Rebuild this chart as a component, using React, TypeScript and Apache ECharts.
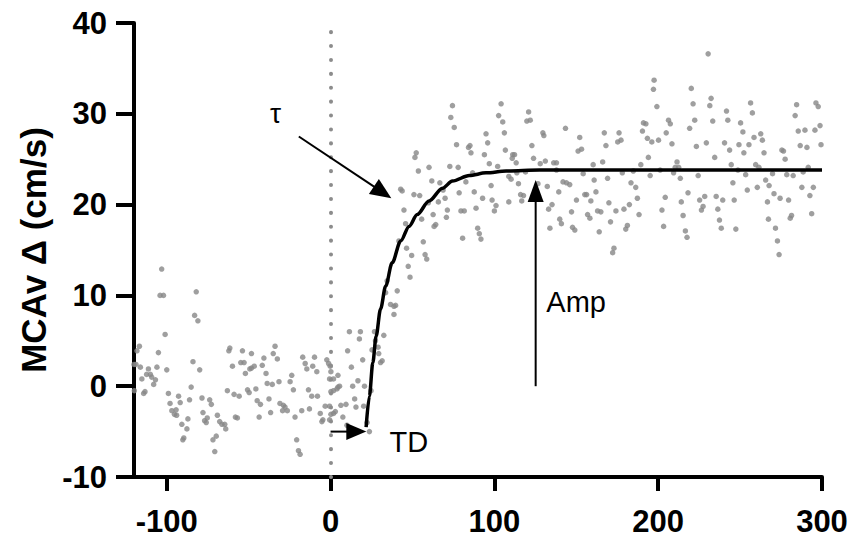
import React, { useEffect, useRef } from "react";
import * as echarts from "echarts";

// ---------- data ----------
const xTickValues = [-100, 0, 100, 200, 300];
const xRange = [-120, 300];
const yRange = [-10, 40];

const baselinePoints: [number, number][] = [
  [-103.1, 12.9], [-104.1, 10.0], [-102.0, 10.0], [-82.0, 10.4], [-83.0, 7.8], [-81.0, 7.2], [-101.0, 5.7],
  [-116.7, 4.4], [-118.2, 3.9], [-105.1, 3.7], [-120, 2.4], [-118.8, 2.4], [-116.1, 2.1], [-111.2, 1.9],
  [-106.0, 2.1], [-100.0, 1.8], [-84.0, 2.7], [-79.9, 1.8], [-112.3, 1.3], [-110.0, 1.3], [-109.2, 1.0],
  [-115.2, 0.8], [-106.9, 0.7], [-108.0, 0.2], [-119.8, -0.5], [-113.3, -0.6], [-114.1, -0.8], [-99.0, -0.8],
  [-85.1, -0.1], [-92.8, -1.1], [-98.0, -1.9], [-91.8, -1.8], [-86.1, -1.5], [-78.5, -1.3], [-73.8, -1.5],
  [-72.8, -2.0], [-96.9, -2.7], [-94.3, -2.6], [-95.3, -3.1], [-94.0, -3.2], [-90.8, -4.2], [-87.1, -3.6],
  [-87.7, -4.7], [-89.6, -5.7], [-90.2, -5.9], [-77.9, -2.9], [-75.3, -3.5], [-76.9, -3.8], [-75.9, -4.0],
  [-69.1, -3.2], [-67.7, -3.9], [-66.3, -4.2], [-64.6, -4.2], [-64.0, -4.7], [-69.8, -5.5], [-71.8, -5.9],
  [-70.7, -7.2], [-61.5, 4.2], [-62.1, 3.9], [-53.8, 3.9], [-48.3, 3.6], [-59.9, 2.2], [-54.8, 2.6],
  [-52.8, 2.6], [-48.3, 2.0], [-49.3, 1.9], [-52.0, 1.4], [-63.0, -0.5], [-58.9, -0.9], [-55.8, -1.1],
  [-50.7, -0.4], [-49.7, -0.7], [-58.1, -3.4], [-56.9, -3.5],
  [-46.6, 2.2], [-45.6, -0.3], [-40.7, 3.1], [-41.7, 2.3], [-39.4, 1.4], [-33.9, 4.4], [-35.0, 3.6],
  [-32.5, 3.0], [-38.7, 0.3], [-35.6, 0.2], [-31.5, 0.5], [-44.8, -1.6], [-42.8, -2.0], [-37.6, -1.4],
  [-43.6, -3.4], [-36.6, -2.9], [-30.9, -1.9], [-28.8, -2.1], [-27.8, -2.3], [-29.3, -2.7], [-26.4, -2.7],
  [-23.7, 1.2], [-24.7, 0.5], [-22.7, -0.4], [-21.7, -3.4], [-17.6, -2.7], [-12.9, -2.5], [-17.0, 3.2],
  [-15.5, 2.5], [-14.5, 1.9], [-9.8, 3.2], [-10.9, 2.2], [-8.4, 1.6], [-13.5, -0.4], [-11.5, -1.1],
  [-8.0, -1.1], [-20.7, -5.9], [-19.6, -7.1], [-18.6, -7.5], [-2.3, 2.9], [-1.2, 2.5], [-0.2, 2.2],
  [0.2, 1.6], [-0.6, 0.8], [4.5, 1.2], [0.2, -0.6], [1.8, -0.5], [3.9, -0.3], [5.5, 0.0], [-3.3, -2.2],
  [-0.6, -2.2], [-6.3, -3.0], [-4.7, -3.7], [-5.3, -3.9], [0.2, -3.1], [1.8, -3.0], [6.3, -2.1],
  [7.5, -3.4], [-0.6, -3.7],
];

const risePoints: [number, number][] = [
  [52.3, 25.7], [51.5, 25.2], [53.6, 23.7], [60.1, 24.1], [42.8, 21.7], [43.7, 21.5], [50.9, 21.1],
  [54.4, 21.0], [44.8, 19.4], [45.8, 17.9], [55.6, 18.4], [41.7, 16.0], [46.4, 15.2], [49.5, 14.4],
  [56.6, 15.9], [57.7, 14.5], [58.7, 14.0], [47.4, 13.2], [48.5, 12.0], [34.5, 11.6], [33.6, 10.3],
  [40.7, 10.5], [36.6, 9.0], [38.7, 8.8], [39.7, 8.9], [38.7, 7.9], [11.5, 6.0], [18.2, 6.0], [17.6, 5.2],
  [26.8, 6.0], [32.5, 5.6], [27.4, 5.0], [10.4, 3.9], [25.3, 4.0], [29.0, 4.3], [29.4, 3.6], [31.5, 2.8],
  [30.5, 2.6], [19.6, 2.9], [12.7, 2.1], [1.8, 0.8], [16.7, 0.6], [13.5, 0.0], [20.7, 0.0], [4.5, -0.1],
  [24.7, -0.5], [14.7, -1.4], [15.5, -2.3], [9.4, -2.0], [2.9, -2.8], [20.2, -2.2], [10.0, -4.3],
  [22.3, -4.0], [23.7, -5.0],
];

const earlyPlateauPoints: [number, number][] = [
  [74.4, 30.9], [73.4, 29.6], [75.5, 28.5], [76.9, 26.6], [84.2, 26.3], [85.1, 26.5], [85.7, 25.7],
  [104.1, 31.1], [102.6, 29.8], [105.1, 29.1], [120.9, 30.2], [119.8, 29.2], [121.9, 29.3], [106.1, 27.9],
  [94.9, 27.8], [95.9, 26.8], [106.7, 26.0], [93.9, 25.5], [111.2, 25.5], [112.3, 25.5], [110.9, 25.1],
  [113.3, 24.6], [122.9, 26.5], [123.9, 25.1], [96.9, 24.5], [102.0, 24.2], [72.8, 24.2], [77.9, 24.1],
  [86.7, 23.5], [108.8, 23.1], [110.2, 22.8], [113.7, 23.5], [119.0, 23.6], [61.8, 22.6], [66.7, 22.4],
  [68.7, 21.6], [69.9, 20.7], [82.6, 22.5], [98.0, 22.1], [114.7, 22.3], [78.5, 21.3], [87.7, 21.4],
  [92.8, 20.7], [98.6, 20.5], [101.0, 19.9], [100.0, 19.3], [108.8, 20.3], [116.0, 21.1], [117.8, 21.0],
  [116.7, 20.4], [65.8, 20.3], [59.7, 20.2], [62.6, 18.9], [71.3, 19.4], [70.7, 18.6], [79.6, 19.3],
  [81.6, 19.3], [88.8, 19.6], [64.2, 17.8], [63.2, 17.6], [89.8, 17.4], [90.8, 16.8], [91.8, 16.2],
  [80.6, 16.3],
];

const midPlateauPoints: [number, number][] = [
  [197.5, 33.7], [197.1, 32.7], [129.6, 27.9], [130.2, 27.6], [143.4, 28.4], [152.1, 27.4], [151.1, 25.9],
  [153.2, 26.1], [167.1, 27.9], [168.1, 26.5], [176.1, 27.9], [175.3, 26.9], [177.3, 27.1], [191.0, 29.0],
  [192.5, 28.9], [190.4, 28.1], [193.4, 27.3], [196.1, 26.9], [194.0, 25.2], [189.4, 24.4], [128.0, 24.5],
  [131.1, 24.8], [136.2, 24.6], [137.9, 24.6], [137.9, 23.8], [160.3, 24.4], [166.1, 24.7], [154.2, 23.4],
  [178.1, 23.5], [184.8, 23.7], [195.1, 23.2], [126.6, 22.3], [132.3, 22.0], [141.9, 22.5], [144.0, 22.4],
  [146.0, 22.2], [139.3, 21.4], [160.9, 22.7], [169.1, 22.9], [183.4, 22.4], [186.3, 21.9], [155.2, 21.1],
  [156.3, 21.1], [162.0, 21.4], [150.1, 20.5], [158.9, 20.4], [187.3, 20.7], [135.2, 20.0], [133.1, 19.5],
  [169.9, 20.2], [182.4, 20.0], [179.1, 19.5], [147.1, 19.2], [163.0, 19.3], [165.0, 19.2], [174.2, 19.3],
  [156.9, 18.9], [158.3, 18.5], [188.3, 18.9], [139.9, 18.4], [140.9, 17.9], [170.9, 18.1], [133.9, 17.4],
  [147.7, 17.5], [149.1, 17.2], [181.2, 17.7], [180.2, 17.3], [164.0, 17.0], [173.0, 15.2], [172.2, 14.7],
];

const latePlateauPoints: [number, number][] = [
  [230.5, 36.6], [199.2, 30.8], [220.2, 32.8], [221.3, 31.1], [232.3, 31.7], [231.5, 30.9], [256.4, 31.2],
  [257.5, 30.1], [241.7, 30.3], [242.5, 29.3], [206.3, 29.3], [207.4, 28.9], [222.3, 29.3], [233.3, 29.2],
  [250.3, 29.0], [219.2, 28.4], [204.9, 27.9], [251.7, 28.0], [262.6, 27.8], [200.2, 27.1], [208.4, 26.7],
  [223.3, 26.4], [229.4, 26.8], [240.5, 26.8], [249.3, 26.6], [255.4, 26.6], [258.5, 27.4], [263.6, 27.1],
  [243.6, 26.0], [252.3, 25.7], [264.6, 25.7], [234.5, 25.2], [211.5, 24.7], [210.4, 24.1], [212.5, 24.1],
  [244.6, 24.4], [259.5, 24.4], [261.5, 24.1], [201.2, 23.8], [209.4, 23.5], [213.5, 22.9], [224.4, 23.2],
  [248.7, 23.8], [253.4, 23.3], [265.6, 22.7], [267.7, 22.1], [245.6, 22.4], [254.4, 21.6], [260.5, 21.9],
  [204.3, 20.8], [218.2, 21.3], [228.4, 20.9], [225.3, 20.5], [235.4, 20.9], [239.4, 20.5], [214.1, 20.3],
  [246.4, 20.5], [266.7, 20.3], [202.3, 19.4], [227.4, 19.8], [226.4, 19.4], [236.4, 19.5], [215.2, 18.8],
  [237.4, 18.3], [203.3, 17.6], [238.5, 17.4], [247.4, 17.3], [216.6, 17.1], [217.6, 16.4], [267.3, 18.4],
  [284.5, 31.0], [283.6, 29.8], [296.3, 31.2], [297.7, 30.8], [285.5, 28.1], [289.6, 28.2], [295.7, 28.2],
  [298.8, 28.7], [286.7, 26.5], [290.8, 26.3], [299.4, 26.6], [275.5, 26.0], [276.5, 25.9], [277.5, 25.0],
  [291.6, 24.1], [288.5, 23.6], [269.8, 23.4], [278.5, 23.3], [282.4, 23.2], [270.7, 21.2], [274.4, 20.7],
  [279.6, 20.5], [287.7, 21.9], [294.7, 21.9], [292.6, 21.0], [281.4, 18.8], [280.6, 18.5], [293.7, 19.0],
  [271.6, 17.4], [272.8, 16.0], [273.8, 14.5],
];

// fitted response curve
const fitCurve: [number, number][] = [
  [21.7, -4.5], [23.7, -1.1], [25.8, 2.6], [27.8, 5.5], [30.5, 8.5], [33.6, 11.0], [37.6, 13.6],
  [42.8, 16.0], [47.9, 17.6], [52.9, 18.9], [60.1, 20.4], [68.3, 21.8], [74.4, 22.6], [84.7, 23.2],
  [94.9, 23.5], [107.2, 23.7], [127.6, 23.8], [300, 23.8],
];

// annotations (data coordinates)
const tauArrow = { from: [-19.4, 27.5], to: [37.1, 20.7] };
const tdArrow = { from: [0, -5.0], to: [21.8, -5.0] };
const ampArrow = { from: [125.2, 0], to: [125.2, 22.7] };
const annotationLabels = [
  { text: "τ", at: [-33.6, 30.0], size: 28, align: "center" },
  { text: "TD", at: [36.0, -6.1], size: 29, align: "left" },
  { text: "Amp", at: [131.7, 9.3], size: 29, align: "left" },
];

const FONT = "'Liberation Sans', Arial, Helvetica, sans-serif";

export default function App() {
  const ref = useRef<HTMLDivElement>(null);

  useEffect(() => {
    if (!ref.current) return;
    const chart = echarts.init(ref.current, undefined, { renderer: "svg" });
    const allPoints = [
      ...baselinePoints,
      ...risePoints,
      ...earlyPlateauPoints,
      ...midPlateauPoints,
      ...latePlateauPoints,
    ];
    chart.setOption({
      animation: false,
      backgroundColor: "#ffffff",
      grid: { left: 134, right: 30, top: 23, bottom: 65, containLabel: false },
      xAxis: {
        type: "value",
        min: xRange[0],
        max: xRange[1],
        axisLine: { show: true, onZero: false, lineStyle: { color: "#000", width: 4 } },
        axisTick: {
          show: true,
          length: 14,
          customValues: xTickValues,
          lineStyle: { color: "#000", width: 4 },
        },
        axisLabel: {
          customValues: xTickValues,
          color: "#000",
          fontSize: 31,
          fontWeight: "bold",
          fontFamily: FONT,
          margin: 29,
        },
        splitLine: { show: false },
      },
      yAxis: {
        type: "value",
        min: yRange[0],
        max: yRange[1],
        interval: 10,
        name: "MCAv Δ (cm/s)",
        nameLocation: "middle",
        nameRotate: 90,
        nameGap: 83,
        nameTextStyle: { color: "#000", fontSize: 35, fontWeight: "bold", fontFamily: FONT },
        axisLine: { show: true, onZero: false, lineStyle: { color: "#000", width: 4 } },
        axisTick: { show: true, length: 18, lineStyle: { color: "#000", width: 4 } },
        axisLabel: {
          color: "#000",
          fontSize: 31,
          fontWeight: "bold",
          fontFamily: FONT,
          margin: 27,
        },
        splitLine: { show: false },
      },
      series: [
        {
          type: "scatter",
          data: allPoints,
          symbol: "circle",
          symbolSize: 5.5,
          itemStyle: { color: "#878787" },
          silent: true,
          markLine: {
            silent: true,
            symbol: ["none", "none"],
            label: { show: false },
            lineStyle: { color: "#8c8c8c", width: 4, type: [0.1, 13.8], cap: "round" },
            data: [{ xAxis: 0 }],
          },
          z: 2,
        },
        {
          type: "line",
          data: fitCurve,
          showSymbol: false,
          smooth: 0.3,
          smoothMonotone: "x",
          lineStyle: { color: "#000", width: 3.5 },
          silent: true,
          z: 3,
        },
      ],
    });

    const px = (p: number[]) => chart.convertToPixel({ gridIndex: 0 }, p) as number[];
    const arrow = (a: { from: number[]; to: number[] }, headL: number, headW: number) => {
      const p1 = px(a.from);
      const p2 = px(a.to);
      const dx = p2[0] - p1[0];
      const dy = p2[1] - p1[1];
      const len = Math.hypot(dx, dy);
      const ux = dx / len;
      const uy = dy / len;
      const bx = p2[0] - ux * headL;
      const by = p2[1] - uy * headL;
      const nx = -uy * (headW / 2);
      const ny = ux * (headW / 2);
      return [
        {
          type: "line",
          shape: { x1: p1[0], y1: p1[1], x2: bx + ux * 2, y2: by + uy * 2 },
          style: { stroke: "#000", lineWidth: 2 },
          z: 10,
        },
        {
          type: "polygon",
          shape: { points: [[p2[0], p2[1]], [bx + nx, by + ny], [bx - nx, by - ny]] },
          style: { fill: "#000" },
          z: 10,
        },
      ];
    };

    const graphics: any[] = [
      ...arrow(tauArrow, 21, 18),
      ...arrow(tdArrow, 20, 17),
      ...arrow(ampArrow, 22, 16),
      ...annotationLabels.map((l) => {
        const p = px(l.at);
        return {
          type: "text",
          x: p[0],
          y: p[1],
          z: 10,
          style: {
            text: l.text,
            fill: "#000",
            fontSize: l.size,
            fontFamily: FONT,
            align: l.align,
            verticalAlign: "middle",
          },
        };
      }),
    ];
    chart.setOption({ graphic: graphics });

    return () => chart.dispose();
  }, []);

  return (
    <div
      ref={ref}
      style={{ position: "absolute", left: 0, top: 0, width: 852, height: 542, background: "#fff" }}
    />
  );
}
